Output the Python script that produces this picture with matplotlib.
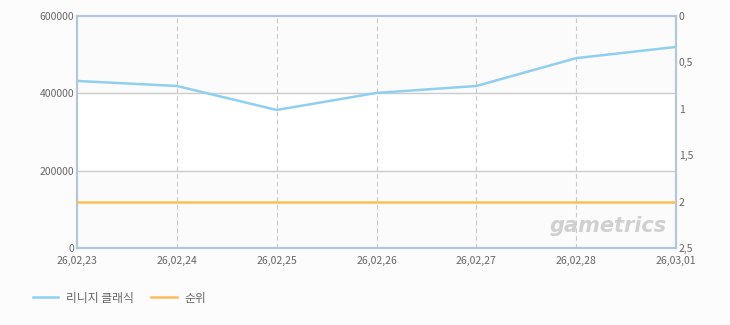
import matplotlib
matplotlib.use("Agg")
import matplotlib.pyplot as plt

plt.rcParams['font.family'] = ['Noto Sans CJK KR', 'DejaVu Sans']

# data
dates = ['26,02,23', '26,02,24', '26,02,25', '26,02,26', '26,02,27', '26,02,28', '26,03,01']
users = [432000, 419000, 357000, 401000, 419000, 491000, 520000]
rank = [2, 2, 2, 2, 2, 2, 2]
left_ticks = [0, 200000, 400000, 600000]
right_ticks = [0, 0.5, 1, 1.5, 2, 2.5]
right_labels = ['0', '0,5', '1', '1,5', '2', '2,5']

blue = '#8fd0f0'
orange = '#fbbd5a'
txt = '#666666'

fig = plt.figure(figsize=(7.3, 3.25), dpi=100)
fig.patch.set_facecolor('#fcfcfc')
ax = fig.add_axes([77/730, 1 - 248/325, 599/730, 232/325])
ax.set_facecolor('white')

x = list(range(len(dates)))
ax.set_xlim(0, len(dates) - 1)
ax.set_ylim(0, 600000)

# alternating bands
ax.axhspan(0, 200000, color='#fbfbfb', zorder=0)
ax.axhspan(400000, 600000, color='#fbfbfb', zorder=0)

for v in left_ticks[1:-1]:
    ax.axhline(v, color='#cccccc', lw=1, zorder=1)
for xi in x[1:-1]:
    ax.axvline(xi, color='#c8c8c8', lw=0.8, ls=(0, (4, 3)), zorder=1)

l1, = ax.plot(x, users, color=blue, lw=1.8, zorder=3)

ax.set_xticks(x)
ax.set_xticklabels(dates)
ax.set_yticks(left_ticks)
ax.set_yticklabels([str(v) for v in left_ticks])
ax.tick_params(axis='y', length=0, labelsize=7.5, colors=txt, pad=2)
ax.tick_params(axis='x', length=0, labelsize=7.5, colors=txt, pad=6)

ax2 = ax.twinx()
ax2.set_ylim(2.5, 0)
l2, = ax2.plot(x, rank, color=orange, lw=1.8, zorder=3)
ax2.set_yticks(right_ticks)
ax2.set_yticklabels(right_labels)
ax2.tick_params(length=0, labelsize=7.5, colors=txt, pad=2)

for a in (ax, ax2):
    for s in a.spines.values():
        s.set_color('#b3c6da')
        s.set_linewidth(1.5)

ax.text(0.985, 0.05, 'gametrics', transform=ax.transAxes, ha='right', va='bottom',
        fontsize=15, color='#d0d0d0', style='italic', fontweight='bold',
        family='DejaVu Sans', zorder=2)

fig.legend([l1, l2], ['리니지 클래식', '순위'], loc='lower left',
           bbox_to_anchor=(0.03, 0.03), ncol=2, frameon=False,
           fontsize=8.5, labelcolor=txt, handlelength=2.2, columnspacing=1.5,
           handletextpad=0.6)

fig.savefig('out.png', dpi=100, facecolor=fig.get_facecolor())
